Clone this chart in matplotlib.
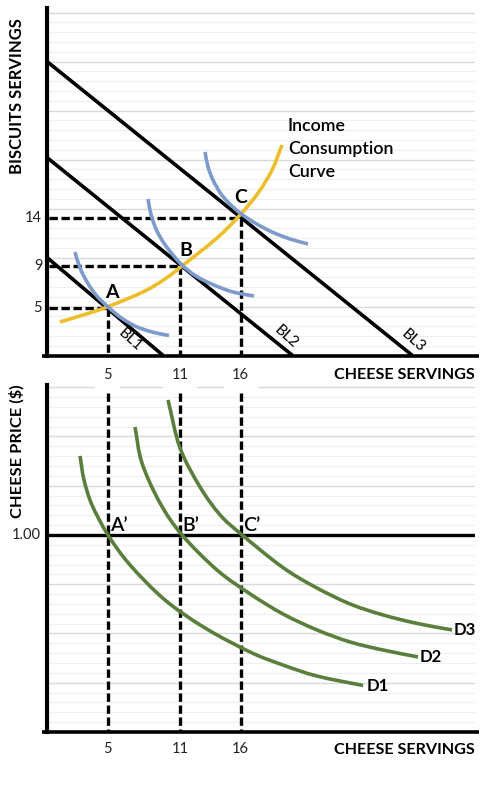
import matplotlib
matplotlib.use('Agg')
import matplotlib.pyplot as plt
from matplotlib.path import Path
from matplotlib.patches import PathPatch
import numpy as np

plt.rcParams['font.family'] = ['Lato', 'DejaVu Sans']

# budget lines: (x, y) end points
bl1_x = [0, 9.6]
bl1_y = [10, 0]
bl2_x = [0, 20.3]
bl2_y = [20.2, 0]
bl3_x = [0, 30.2]
bl3_y = [30, 0]

ic1_x = [2.31, 2.73, 3.31, 4.05, 4.96, 6.03, 7.27, 8.68, 10.08]
ic1_y = [10.56, 8.93, 7.5, 6.17, 5.05, 3.93, 3.01, 2.4, 2.04]
ic2_x = [8.35, 8.6, 9.09, 9.83, 11.07, 12.31, 13.8, 15.37, 17.1]
ic2_y = [15.97, 14.34, 12.7, 11.17, 9.34, 8.11, 7.19, 6.48, 6.07]
ic3_x = [13.06, 13.31, 13.72, 14.38, 15.12, 15.95, 17.19, 18.6, 20.08, 21.57]
ic3_y = [20.77, 19.23, 17.91, 16.48, 15.46, 14.54, 13.52, 12.6, 11.89, 11.38]

icc_x = [1.07, 2.98, 4.96, 7.93, 9.75, 11.16, 14.05, 15.95, 17.44, 18.6, 19.42]
icc_y = [3.42, 4.13, 4.95, 6.48, 7.81, 9.13, 11.99, 14.34, 16.58, 18.93, 21.48]

d1_x = [2.73, 3.06, 3.72, 5.04, 6.86, 9.75, 13.06, 16.78, 19.5, 22.31, 26.12]
d1_y = [1.401, 1.279, 1.152, 1.0, 0.848, 0.67, 0.528, 0.406, 0.34, 0.284, 0.236]
d2_x = [7.27, 7.85, 9.34, 11.16, 14.05, 16.78, 19.5, 22.31, 25.04, 27.77, 30.66]
d2_y = [1.548, 1.365, 1.162, 1.0, 0.822, 0.701, 0.599, 0.518, 0.457, 0.416, 0.381]
d3_x = [10.0, 10.99, 12.64, 14.3, 16.03, 19.42, 22.15, 25.04, 27.77, 30.58, 33.47]
d3_y = [1.685, 1.442, 1.244, 1.102, 1.005, 0.838, 0.736, 0.65, 0.594, 0.551, 0.518]

# tangency points
point_x = [5, 11, 16]
point_y = [4.8, 9.1, 14]
y_labels = ['5', '9', '14']
price = 1.0

BLACK = '#000000'
BLUE = '#7C9BCB'
GOLD = '#EDBE2C'
GREEN = '#5A7F3C'


def draw_curve(ax, xs, ys, color, zorder):
    # bezier through the read points so the stroke is not polygonal
    p = np.column_stack([xs, ys])
    tang = np.gradient(p, axis=0)
    verts = [p[0]]
    codes = [Path.MOVETO]
    for i in range(len(p) - 1):
        verts += [p[i] + tang[i] / 3, p[i + 1] - tang[i + 1] / 3, p[i + 1]]
        codes += [Path.CURVE4] * 3
    ax.add_patch(PathPatch(Path(verts, codes), fill=False, edgecolor=color, lw=2.6,
                           capstyle='butt', zorder=zorder))


fig = plt.figure(figsize=(5, 7.87), dpi=100)
ax1 = fig.add_axes([47 / 500, (787 - 355.5) / 787, 428 / 500, 347.5 / 787], zorder=2)
ax2 = fig.add_axes([47 / 500, (787 - 732) / 787, 428 / 500, 347 / 787], zorder=1)

for ax in (ax1, ax2):
    ax.patch.set_alpha(0)
    for s in ('top', 'right', 'bottom'):
        ax.spines[s].set_visible(False)
    ax.spines['left'].set_linewidth(3)
    ax.spines['left'].set_color(BLACK)
    ax.set_xlim(0, 35.37)
    ax.set_xticks([])
    ax.tick_params(length=0, which='both', labelleft=False)
    ax.set_axisbelow(True)

ax1.set_ylim(0, 35.46)
ax1.set_yticks(np.arange(0, 36, 5))
ax1.set_yticks(np.arange(0, 36, 1), minor=True)
ax2.set_ylim(0, 1.761)
ax2.set_yticks(np.arange(0, 1.76, 0.25))
ax2.set_yticks(np.arange(0, 1.76, 0.05), minor=True)
for ax in (ax1, ax2):
    ax.grid(True, which='major', axis='y', color='#D9D9D9', lw=1.0)
    ax.grid(True, which='minor', axis='y', color='#EFEFEF', lw=0.8)
    ax.plot([-0.4, 35.7], [0, 0], color=BLACK, lw=2.6, clip_on=False, solid_capstyle='butt', zorder=6)

# top panel
dash = (0, (2.5, 1.1))
for x, y in zip(point_x, point_y):
    ax1.plot([0.2, x], [y, y], color=BLACK, lw=2.4, ls=dash, zorder=3)
    ax1.plot([x, x], [y, 0], color=BLACK, lw=2.4, ls=dash, zorder=3)
for x, y in zip([bl1_x, bl2_x, bl3_x], [bl1_y, bl2_y, bl3_y]):
    ax1.plot(x, y, color=BLACK, lw=2.6, zorder=4, solid_capstyle='butt')
for x, y in zip([ic1_x, ic2_x, ic3_x], [ic1_y, ic2_y, ic3_y]):
    draw_curve(ax1, x, y, BLUE, 5)
draw_curve(ax1, icc_x, icc_y, GOLD, 4.5)

ax1.text(5.4, 6.45, 'A', fontsize=14, fontweight='bold', ha='center', va='center', zorder=7)
ax1.text(11.45, 10.7, 'B', fontsize=14, fontweight='bold', ha='center', va='center', zorder=7)
ax1.text(16, 16.1, 'C', fontsize=14, fontweight='bold', ha='center', va='center', zorder=7)
ax1.text(6.85, 1.6, 'BL1', fontsize=11, rotation=-42, ha='center', va='center', zorder=7)
ax1.text(19.8, 1.9, 'BL2', fontsize=11, rotation=-42, ha='center', va='center', zorder=7)
ax1.text(30.25, 1.5, 'BL3', fontsize=11, rotation=-42, ha='center', va='center', zorder=7)
for t, y in zip(['Income', 'Consumption', 'Curve'], [23.45, 21.1, 18.75]):
    ax1.text(19.9, y, t, fontsize=12.8, fontweight='semibold', ha='left', va='center', zorder=7)

for y, t in zip(point_y, y_labels):
    ax1.text(-0.4, y, t, fontsize=10.5, ha='right', va='center', clip_on=False, color='#222222')
for x in point_x:
    ax1.text(x, -2.0, str(x), fontsize=10.5, ha='center', va='center', clip_on=False, color='#222222',
             zorder=5, bbox=dict(facecolor='white', edgecolor='none', pad=6.2))
ax1.text(35.37, -2.0, 'CHEESE SERVINGS', fontsize=11.6, fontweight='bold', ha='right', va='center', clip_on=False)
ax1.text(-2.5, 26.5, 'BISCUITS SERVINGS', fontsize=11.9, fontweight='bold', rotation=90, ha='center', va='center', clip_on=False)

# bottom panel
ax2.plot([0, 35.37], [price, price], color=BLACK, lw=2.4, zorder=3, solid_capstyle='butt')
for x in point_x:
    ax2.plot([x, x], [1.72, 0], color=BLACK, lw=2.4, ls=dash, zorder=3)
for x, y in zip([d1_x, d2_x, d3_x], [d1_y, d2_y, d3_y]):
    draw_curve(ax2, x, y, GREEN, 4)

for x, t in zip(point_x, ["A’", "B’", "C’"]):
    ax2.text(x + 0.2, 1.05, t, fontsize=14, fontweight='semibold', ha='left', va='center', zorder=7)
for x, y, t in zip([26.45, 30.8, 33.6], [0.235, 0.382, 0.52], ['D1', 'D2', 'D3']):
    ax2.text(x, y, t, fontsize=12, fontweight='bold', ha='left', va='center', zorder=7)

ax2.text(-0.5, price, '1.00', fontsize=10.5, ha='right', va='center', clip_on=False, color='#222222')
for x in point_x:
    ax2.text(x, -0.085, str(x), fontsize=10.5, ha='center', va='center', clip_on=False, color='#222222')
ax2.text(35.37, -0.09, 'CHEESE SERVINGS', fontsize=11.6, fontweight='bold', ha='right', va='center', clip_on=False)
ax2.text(-2.5, 1.425, 'CHEESE PRICE ($)', fontsize=11.8, fontweight='bold', rotation=90, ha='center', va='center', clip_on=False)

fig.savefig('out.png', dpi=100, facecolor='white')
